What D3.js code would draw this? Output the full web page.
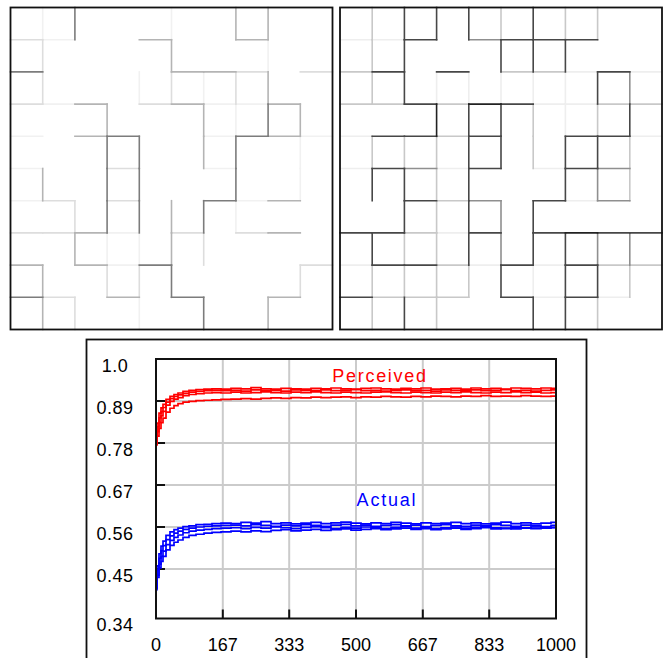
<!DOCTYPE html>
<html>
<head>
<meta charset="utf-8">
<script src="https://cdn.jsdelivr.net/npm/d3@7"></script>
<style>
  body { margin: 0; background: #fff; }
  svg { display: block; }
  text { font-family: "Liberation Sans", Arial, sans-serif; }
</style>
</head>
<body>
<div id="chart"></div>
<script>
// wall shades per edge: 0 = none ... 5 = darkest
// horizontal walls, rows 1..9 (10 cells each); vertical walls, rows 0..9 (cols 1..9)
var leftH = ["2100300300","4000033202","2130231130","1034001431","1002001000",
             "1202004130","2231020230","3031400002","4203040030"];
var leftV = ["140010330","200030010","200121230","003003143","004403401",
             "304400401","024434100","031132000","302240002","320104030"];
var rightH = ["1140344400","2404022141","2242541122","1442400441","1431401430",
              "0042304130","4421404544","1442141422","4222041410"];
var rightV = ["244424220","240044400","241111143","005442124","222442442",
              "442400432","042434000","422434433","222241442","242004420"];
var leftShades  = [null, "#f1f1f1", "#dddddd", "#b4b4b4", "#7c7c7c", "#555555"];
var rightShades = [null, "#eeeeee", "#c8c8c8", "#8f8f8f", "#474747", "#222222"];

// time axis and runs
var steps = [0,5,10,15,20,30,40,50,60,75,90,110,130,150,175,200,225,250,275,300,325,350,375,400,
             425,450,475,500,525,550,575,600,625,650,675,700,725,750,775,800,825,850,875,900,925,950,975,1000];
var perceived1 = [0.780,0.832,0.858,0.872,0.881,0.894,0.902,0.907,0.911,0.915,0.918,0.920,
                  0.921,0.922,0.921,0.923,0.922,0.925,0.922,0.921,0.923,0.922,0.921,0.923,
                  0.922,0.924,0.922,0.921,0.923,0.924,0.922,0.921,0.923,0.922,0.924,0.921,
                  0.922,0.923,0.921,0.924,0.922,0.923,0.921,0.924,0.923,0.922,0.924,0.923];
var perceived2 = [0.782,0.822,0.846,0.862,0.873,0.887,0.896,0.902,0.906,0.910,0.913,0.915,
                  0.917,0.918,0.917,0.918,0.916,0.919,0.917,0.918,0.916,0.919,0.918,0.917,
                  0.919,0.917,0.918,0.920,0.917,0.918,0.916,0.918,0.919,0.917,0.918,0.916,
                  0.919,0.918,0.917,0.919,0.917,0.918,0.920,0.917,0.918,0.916,0.918,0.919];
var perceived3 = [0.776,0.810,0.834,0.851,0.863,0.879,0.889,0.895,0.899,0.904,0.907,0.909,
                  0.911,0.912,0.911,0.913,0.911,0.912,0.914,0.912,0.911,0.913,0.912,0.914,
                  0.912,0.911,0.913,0.912,0.911,0.913,0.914,0.912,0.911,0.913,0.912,0.911,
                  0.913,0.912,0.914,0.912,0.911,0.913,0.912,0.914,0.912,0.913,0.911,0.912];
var perceived4 = [0.776,0.798,0.818,0.833,0.845,0.861,0.871,0.878,0.883,0.887,0.889,0.891,
                  0.892,0.893,0.894,0.895,0.896,0.895,0.897,0.898,0.897,0.899,0.898,0.900,
                  0.899,0.900,0.901,0.899,0.901,0.900,0.902,0.901,0.900,0.902,0.901,0.903,
                  0.902,0.901,0.903,0.902,0.904,0.902,0.903,0.902,0.904,0.903,0.902,0.903];
var actual1 = [0.402,0.458,0.490,0.510,0.523,0.538,0.547,0.553,0.557,0.561,0.563,0.566,
               0.567,0.569,0.570,0.569,0.572,0.570,0.574,0.569,0.571,0.568,0.570,0.572,
               0.569,0.571,0.573,0.570,0.568,0.571,0.569,0.572,0.570,0.568,0.571,0.569,
               0.570,0.572,0.569,0.571,0.568,0.570,0.573,0.569,0.571,0.568,0.570,0.572];
var actual2 = [0.405,0.448,0.478,0.498,0.511,0.527,0.537,0.544,0.549,0.554,0.557,0.560,
               0.562,0.563,0.564,0.565,0.563,0.566,0.564,0.562,0.565,0.563,0.566,0.564,
               0.562,0.565,0.567,0.563,0.565,0.562,0.564,0.566,0.563,0.565,0.561,0.564,
               0.566,0.563,0.562,0.565,0.563,0.566,0.564,0.562,0.565,0.563,0.561,0.564];
var actual3 = [0.396,0.434,0.463,0.483,0.497,0.514,0.525,0.533,0.539,0.545,0.549,0.552,
               0.554,0.556,0.557,0.558,0.556,0.559,0.557,0.560,0.558,0.556,0.559,0.561,
               0.558,0.556,0.559,0.557,0.560,0.558,0.556,0.559,0.561,0.557,0.559,0.556,
               0.558,0.560,0.557,0.559,0.561,0.558,0.556,0.559,0.557,0.560,0.558,0.559];
var actual4 = [0.400,0.428,0.453,0.470,0.483,0.500,0.512,0.520,0.526,0.533,0.538,0.541,
               0.544,0.546,0.547,0.549,0.547,0.550,0.548,0.551,0.553,0.550,0.552,0.554,
               0.551,0.553,0.555,0.552,0.554,0.556,0.553,0.555,0.557,0.554,0.556,0.553,
               0.555,0.557,0.554,0.556,0.558,0.555,0.557,0.555,0.558,0.556,0.557,0.558];
var xTicks = [0,167,333,500,667,833,1000];
var yTicks = [1.0,0.89,0.78,0.67,0.56,0.45,0.34];

var svg = d3.select("#chart").append("svg")
	.attr("width", 670)
	.attr("height", 658);

// ---- the two grids ----
function drawGrid(x0, y0, size, hRows, vRows, shades){
	var cell = d3.scaleLinear().domain([0, 10]).range([0, size]);
	var g = svg.append("g").attr("transform", "translate(" + x0 + "," + y0 + ")");
	var edges = [];
	hRows.forEach(function(row, i){
		row.split("").forEach(function(ch, c){
			if (+ch > 0) edges.push({x1: c, y1: i + 1, x2: c + 1, y2: i + 1, s: +ch});
		});
	});
	vRows.forEach(function(row, r){
		row.split("").forEach(function(ch, i){
			if (+ch > 0) edges.push({x1: i + 1, y1: r, x2: i + 1, y2: r + 1, s: +ch});
		});
	});
	// light ones first so the dark walls sit on top
	edges.sort(function(a, b){ return a.s - b.s; });
	g.selectAll("line.wall").data(edges)
		.enter().append("line")
		.attr("class", "wall")
		.attr("x1", function(d){ return cell(d.x1); })
		.attr("y1", function(d){ return cell(d.y1); })
		.attr("x2", function(d){ return cell(d.x2); })
		.attr("y2", function(d){ return cell(d.y2); })
		.attr("stroke", function(d){ return shades[d.s]; })
		.attr("stroke-width", 1.6)
		.attr("stroke-linecap", "square");
	g.append("rect")
		.attr("width", size)
		.attr("height", size)
		.attr("fill", "none")
		.attr("stroke", "#111")
		.attr("stroke-width", 1.8);
}
drawGrid(10.5, 7.5, 322, leftH, leftV, leftShades);
drawGrid(340, 7.5, 322, rightH, rightV, rightShades);

// ---- the plot ----
svg.append("rect")
	.attr("x", 86.5).attr("y", 339.5)
	.attr("width", 500).attr("height", 340)
	.attr("fill", "#fff")
	.attr("stroke", "#111")
	.attr("stroke-width", 1.8);

var x = d3.scaleLinear().domain([0, 1000]).range([156, 556]);
var y = d3.scaleLinear().domain([0.34, 1.0]).range([611, 359]);
var plotTop = 359, plotBottom = 618.5;

var grid = svg.append("g");
grid.selectAll("line.hg").data(yTicks.slice(1, 6))
	.enter().append("line")
	.attr("x1", x(0)).attr("x2", x(1000))
	.attr("y1", function(d){ return y(d); })
	.attr("y2", function(d){ return y(d); })
	.attr("stroke", "#cbcbcb").attr("stroke-width", 2);
grid.selectAll("line.vg").data(xTicks.slice(1, 6))
	.enter().append("line")
	.attr("y1", plotTop).attr("y2", plotBottom)
	.attr("x1", function(d){ return x(d); })
	.attr("x2", function(d){ return x(d); })
	.attr("stroke", "#cbcbcb").attr("stroke-width", 2);

// small black ticks inside the frame
grid.selectAll("line.yt").data(yTicks.slice(1, 6))
	.enter().append("line")
	.attr("x1", x(0)).attr("x2", x(0) + 9)
	.attr("y1", function(d){ return y(d); })
	.attr("y2", function(d){ return y(d); })
	.attr("stroke", "#111").attr("stroke-width", 2);
grid.selectAll("line.xt").data(xTicks.slice(1, 6))
	.enter().append("line")
	.attr("y1", plotBottom).attr("y2", plotBottom - 9)
	.attr("x1", function(d){ return x(d); })
	.attr("x2", function(d){ return x(d); })
	.attr("stroke", "#111").attr("stroke-width", 2);

var line = d3.line()
	.x(function(d){ return x(d[0]); })
	.y(function(d){ return y(d[1]); })
	.curve(d3.curveStep);

var runs = [
	{vals: perceived1, color: "#ff0000"}, {vals: perceived2, color: "#ff0000"},
	{vals: perceived3, color: "#ff0000"}, {vals: perceived4, color: "#ff0000"},
	{vals: actual1, color: "#0000ff"}, {vals: actual2, color: "#0000ff"},
	{vals: actual3, color: "#0000ff"}, {vals: actual4, color: "#0000ff"}
];
svg.selectAll("path.run").data(runs)
	.enter().append("path")
	.attr("class", "run")
	.attr("d", function(d){ return line(d3.zip(steps, d.vals)); })
	.attr("fill", "none")
	.attr("stroke", function(d){ return d.color; })
	.attr("stroke-width", 1.7);

svg.append("rect")
	.attr("x", x(0)).attr("y", plotTop)
	.attr("width", x(1000) - x(0)).attr("height", plotBottom - plotTop)
	.attr("fill", "none")
	.attr("stroke", "#111")
	.attr("stroke-width", 2);

// labels
svg.selectAll("text.yl").data(yTicks)
	.enter().append("text")
	.attr("x", 115)
	.attr("y", function(d){ return (d === 0.34 ? plotBottom : y(d)) + 12.5; })
	.attr("text-anchor", "middle")
	.attr("font-size", 18)
	.attr("letter-spacing", 0.5)
	.attr("fill", "#000")
	.text(function(d){ return d === 1 ? "1.0" : d3.format(".2f")(d); });
svg.selectAll("text.xl").data(xTicks)
	.enter().append("text")
	.attr("x", function(d){ return x(d); })
	.attr("y", 650.5)
	.attr("text-anchor", "middle")
	.attr("font-size", 18)
	.attr("fill", "#000")
	.text(function(d){ return d; });

svg.append("text")
	.attr("x", 380).attr("y", 381.5)
	.attr("text-anchor", "middle")
	.attr("font-size", 18)
	.attr("letter-spacing", 1.7)
	.attr("fill", "#ff0000")
	.text("Perceived");
svg.append("text")
	.attr("x", 387).attr("y", 505.5)
	.attr("text-anchor", "middle")
	.attr("font-size", 18)
	.attr("letter-spacing", 1.8)
	.attr("fill", "#0000ff")
	.text("Actual");
</script>
</body>
</html>
